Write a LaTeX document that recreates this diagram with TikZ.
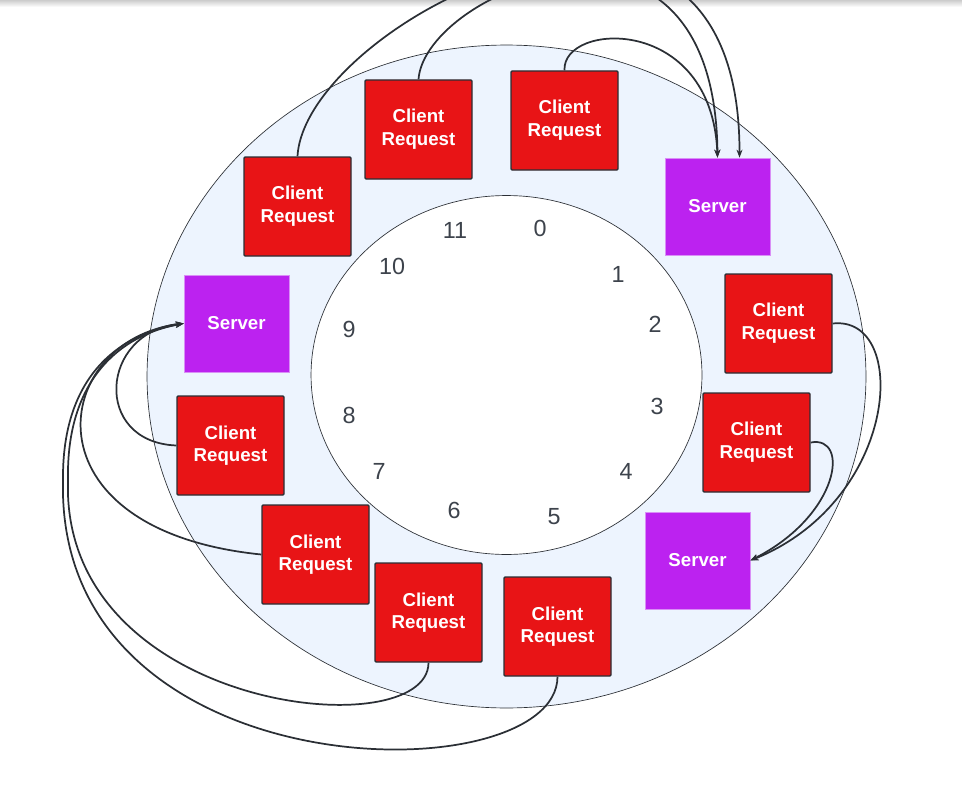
\documentclass[tikz,border=0pt]{standalone}
\usepackage{fontspec}
\setmainfont{Liberation Sans}
\usetikzlibrary{arrows.meta}
\definecolor{reqred}{HTML}{E81416}
\definecolor{srvpurple}{HTML}{BC22F0}
\definecolor{srvedge}{HTML}{D98FF6}
\definecolor{ringblue}{HTML}{EDF4FE}
\definecolor{inkgray}{HTML}{2B2F35}
\definecolor{numgray}{HTML}{3D434C}
\tikzset{
  reqbox/.style={draw=inkgray, line width=1.1pt, fill=reqred, text=white,
    minimum width=80.25pt, minimum height=74.25pt, inner sep=0pt,
    rounded corners=0.8pt, align=center, font=\bfseries\fontsize{14}{17}\selectfont},
  srvbox/.style={draw=srvedge, line width=0.5pt, fill=srvpurple, text=white,
    minimum width=78.75pt, minimum height=72.75pt, inner sep=0pt,
    font=\bfseries\fontsize{14}{17}\selectfont},
  hour/.style={text=numgray, inner sep=0pt, font=\fontsize{17.5}{17.5}\selectfont},
  link/.style={draw=inkgray, line width=1.3pt, -{Stealth[length=6pt,width=4.5pt]}}
}
\begin{document}
\begin{tikzpicture}[x=0.75pt,y=-0.75pt]
  \useasboundingbox (0,0) rectangle (962,788);
  \clip (0,0) rectangle (962,788);
  \shade[top color=gray!40, bottom color=white] (0,0) rectangle (962,7);
  % ring
  \draw[fill=ringblue, draw=inkgray, line width=0.5pt]
    (506.5,376.5) ellipse [x radius=269.6pt, y radius=248.6pt];
  \draw[fill=white, draw=inkgray, line width=0.5pt]
    (506.5,375) ellipse [x radius=146.6pt, y radius=134.6pt];
  % hours
  \path[every node/.style={hour}]
    (540,228) node (h0){0}
    (618,274) node (h1){1}
    (655,324) node (h2){2}
    (657,406) node (h3){3}
    (626,471) node (h4){4}
    (554,517) node (h5){5}
    (454,510) node (h6){6}
    (379,471) node (h7){7}
    (349,415) node (h8){8}
    (349,329) node (h9){9}
    (392,266) node (h10){10}
    (455,230) node (h11){11};
  % servers
  \node[srvbox] (srvA) at (717.5,206.5) {Server};
  \node[srvbox] (srvB) at (236.5,323.5) {Server};
  \node[srvbox] (srvC) at (697.5,560.5) {Server};
  % client requests
  \node[reqbox] (req1) at (297.5,206.5) {Client\\Request};
  \node[reqbox] (req2) at (418.5,129.5) {Client\\Request};
  \node[reqbox] (req3) at (564.5,120.5) {Client\\Request};
  \node[reqbox] (req4) at (778.5,323.5) {Client\\Request};
  \node[reqbox] (req5) at (756.5,442.5) {Client\\Request};
  \node[reqbox] (req6) at (557.5,626.5) {Client\\Request};
  \node[reqbox] (req7) at (428.5,612.5) {Client\\Request};
  \node[reqbox] (req8) at (315.5,554.5) {Client\\Request};
  \node[reqbox] (req9) at (230.5,445.5) {Client\\Request};
  % requests to servers
  \draw[link] (req3.north) .. controls (562,22) and (712,14) .. (srvA.north);
  \draw[link] (req2.north) .. controls (425,-10) and (715,-130) .. (srvA.north);
  \draw[link] (req1.north) .. controls (305,20) and (740,-200) .. ([xshift=16.5pt]srvA.north);
  \draw[link] (req4.east) .. controls (910,315) and (900,500) .. (srvC.east);
  \draw[link] (req5.east) .. controls (850,435) and (840,515) .. (srvC.east);
  \draw[link] (req9.west) .. controls (92,442) and (100,332) .. (srvB.west);
  \draw[link] (req8.west) .. controls (20,530) and (50,340) .. (srvB.west);
  \draw[link] (req7.south) .. controls (428,748) and (60,712) .. (68,480)
    .. controls (66,380) and (120,335) .. (srvB.west);
  \draw[link] (req6.south) .. controls (557,795) and (55,795) .. (63,480)
    .. controls (62,380) and (115,335) .. (srvB.west);
\end{tikzpicture}
\end{document}
